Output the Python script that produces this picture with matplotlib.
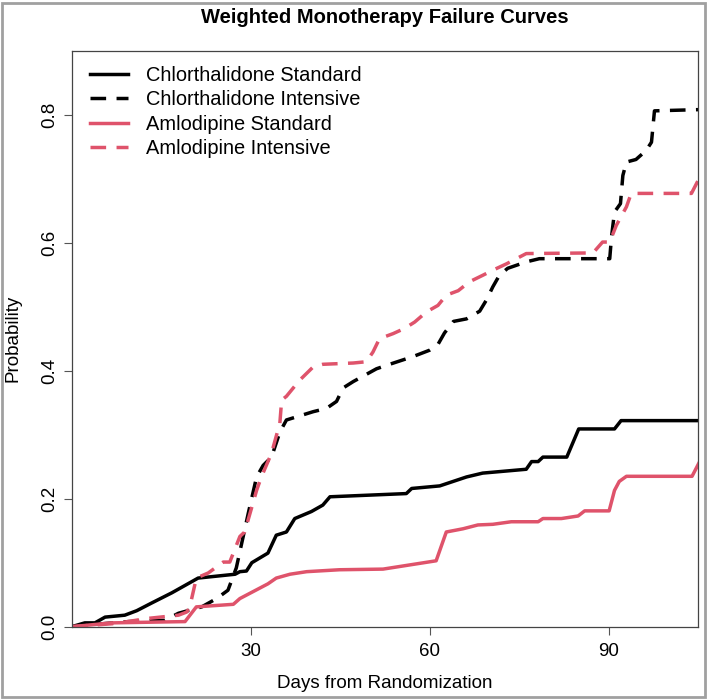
import matplotlib.pyplot as plt
from matplotlib.patches import Rectangle

plt.rcParams['font.family'] = ['Liberation Sans', 'DejaVu Sans']

# curves (days, probability)
chl_std_days = [0, 2.2, 3.9, 5.6, 8.9, 10.9, 13.4, 16.8, 21.2, 27.4, 28.2, 29.3, 30.2, 32.9, 34.3,
                36.0, 37.4, 40.2, 42.1, 43.3, 56.1, 57.0, 61.7, 66.2, 68.9, 76.2, 77.1, 78.2, 79.0,
                83.0, 85.0, 91.0, 92.1, 105.5]
chl_std_prob = [0, 0.006, 0.006, 0.015, 0.018, 0.025, 0.037, 0.053, 0.076, 0.082, 0.086, 0.087, 0.100,
                0.115, 0.143, 0.148, 0.169, 0.180, 0.190, 0.203, 0.208, 0.216, 0.220, 0.234, 0.240,
                0.246, 0.258, 0.258, 0.265, 0.265, 0.309, 0.309, 0.322, 0.322]

chl_int_days = [0, 5.6, 9.5, 15.6, 17.9, 21.8, 24.3, 26.2, 27.6, 29.6, 31.0, 32.1, 33.5, 34.9, 36.0,
                40.5, 42.7, 44.4, 45.5, 47.2, 51.1, 53.3, 57.2, 60.0, 61.4, 62.5, 64.0, 66.2, 68.4,
                69.5, 70.6, 71.7, 73.1, 76.2, 78.4, 90.2, 90.5, 91.0, 92.0, 92.4, 93.0, 94.6, 96.3,
                97.2, 97.7, 105.5]
chl_int_prob = [0, 0.005, 0.008, 0.010, 0.021, 0.031, 0.044, 0.057, 0.092, 0.177, 0.234, 0.252, 0.265,
                0.304, 0.323, 0.336, 0.341, 0.352, 0.373, 0.383, 0.403, 0.410, 0.422, 0.432, 0.441,
                0.459, 0.477, 0.481, 0.493, 0.510, 0.531, 0.549, 0.560, 0.570, 0.575, 0.575, 0.609,
                0.648, 0.661, 0.705, 0.726, 0.730, 0.744, 0.757, 0.806, 0.808]

aml_std_days = [0, 6.7, 19.0, 20.9, 27.1, 28.2, 32.9, 34.3, 36.6, 39.4, 44.9, 52.2, 61.1, 62.8, 65.6,
                68.1, 70.6, 73.7, 78.2, 79.0, 82.1, 84.9, 86.0, 90.1, 91.0, 91.8, 93.0, 104.0, 105.5]
aml_std_prob = [0, 0.006, 0.008, 0.031, 0.035, 0.044, 0.067, 0.076, 0.082, 0.086, 0.089, 0.090, 0.103,
                0.148, 0.153, 0.159, 0.160, 0.164, 0.164, 0.169, 0.169, 0.173, 0.181, 0.181, 0.213,
                0.227, 0.235, 0.235, 0.262]

aml_int_days = [0, 7.3, 12.8, 17.9, 19.3, 19.8, 20.9, 22.9, 25.4, 26.5, 28.2, 29.0, 31.0, 31.8, 33.5,
                34.9, 35.2, 36.0, 38.2, 40.5, 42.1, 47.2, 49.4, 50.5, 51.6, 53.9, 55.8, 57.5, 59.5,
                61.4, 62.8, 64.8, 66.7, 68.9, 70.6, 72.9, 76.2, 87.4, 89.0, 90.2, 91.3, 93.0, 93.8,
                103.9, 105.5]
aml_int_prob = [0, 0.005, 0.013, 0.018, 0.023, 0.031, 0.076, 0.084, 0.101, 0.101, 0.141, 0.148, 0.213,
                0.234, 0.271, 0.318, 0.354, 0.360, 0.385, 0.406, 0.410, 0.412, 0.414, 0.429, 0.450,
                0.458, 0.466, 0.476, 0.492, 0.502, 0.518, 0.525, 0.539, 0.549, 0.557, 0.567, 0.583,
                0.584, 0.601, 0.601, 0.627, 0.656, 0.677, 0.677, 0.706]

x_ticks = [30, 60, 90]
y_ticks = [0.0, 0.2, 0.4, 0.6, 0.8]

red = '#DF536B'
dash = (0, (4.5, 3))

fig = plt.figure(figsize=(7.09, 7.0), dpi=100)
ax = fig.add_axes([0.1011, 0.1047, 0.8834, 0.8229])

ax.plot(chl_std_days, chl_std_prob, color='black', lw=2.5, label='Chlorthalidone Standard')
ax.plot(chl_int_days, chl_int_prob, color='black', lw=2.5, ls=dash, label='Chlorthalidone Intensive')
ax.plot(aml_std_days, aml_std_prob, color=red, lw=2.5, label='Amlodipine Standard')
ax.plot(aml_int_days, aml_int_prob, color=red, lw=2.5, ls=dash, label='Amlodipine Intensive')

ax.set_xlim(0, 105)
ax.set_ylim(0, 0.9)
ax.set_xticks(x_ticks)
ax.set_xticklabels([str(t) for t in x_ticks])
ax.set_yticks(y_ticks)
ax.set_yticklabels(['%.1f' % t for t in y_ticks], rotation=90, va='center')
ax.tick_params(length=5.5, width=0.8, color='#555555', labelsize=13.5, pad=4)
ax.tick_params(axis='x', pad=6)
for s in ax.spines.values():
    s.set_color('#444444')
    s.set_linewidth(0.9)

ax.set_xlabel('Days from Randomization', fontsize=13.5)
ax.xaxis.set_label_coords(0.5, -0.098)
ax.xaxis.label.set_va('center')
ax.set_ylabel('Probability', fontsize=13.5)
ax.yaxis.set_label_coords(-0.094, 0.5)
ax.yaxis.label.set_va('center')

fig.text(0.543, 0.975, 'Weighted Monotherapy Failure Curves', ha='center', va='center',
         fontsize=14.5, fontweight='bold')

leg = ax.legend(loc='upper left', frameon=False, fontsize=14.4, handlelength=1.9,
                handletextpad=0.9, labelspacing=0.27, borderaxespad=0, borderpad=0,
                bbox_to_anchor=(0.029, 0.9735))

# grey frame round the whole picture
fig.patches.append(Rectangle((0.003, 0.004), 0.992, 0.992, transform=fig.transFigure,
                             fill=False, edgecolor='#a0a0a0', lw=2))

fig.savefig('out.png', dpi=100)
